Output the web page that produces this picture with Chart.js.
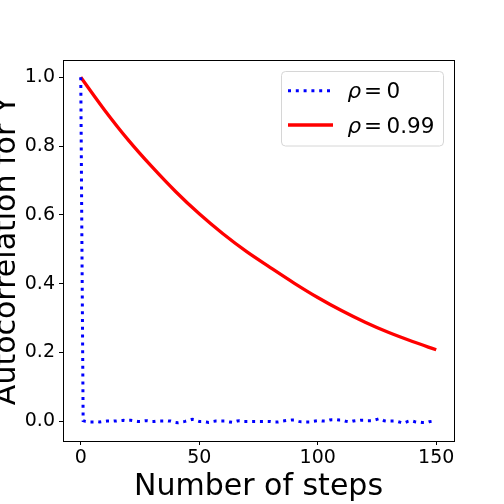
<!DOCTYPE html>
<html>
<head>
<meta charset="utf-8">
<script src="https://cdn.jsdelivr.net/npm/chart.js@4.4.1/dist/chart.umd.min.js"></script>
<style>
  html, body { margin: 0; padding: 0; background: #fff; }
  #chart { display: block; }
</style>
</head>
<body>
<canvas id="chart" width="504" height="504"></canvas>
<script>
// steps for rho = 0 (every step), and its sample autocorrelation
const stepsIid = [...Array(151).keys()]
const acfIid = [
  1.0, 0.002, 0.0, -0.001, -0.002, -0.002, -0.002, -0.001, -0.002, -0.001,
  0.0, 0.001, 0.001, 0.0, 0.001, 0.001, 0.002, 0.002, 0.003, 0.002,
  0.003, 0.003, 0.002, 0.001, 0.0, 0.0, 0.001, 0.002, 0.002, 0.001,
  0.0, 0.0, 0.001, 0.001, 0.001, 0.001, 0.002, 0.001, 0.001, -0.001,
  -0.003, -0.004, -0.003, -0.001, 0.0, 0.002, 0.004, 0.006, 0.005, 0.002,
  0.0, 0.0, -0.001, -0.002, -0.003, -0.002, 0.0, 0.001, 0.001, 0.001,
  0.001, 0.001, -0.001, -0.002, -0.003, -0.001, 0.001, 0.002, 0.001, 0.0,
  0.0, 0.0, 0.0, 0.0, 0.0, 0.0, 0.0, 0.0, 0.0, 0.0,
  0.0, -0.001, -0.002, -0.002, -0.001, 0.001, 0.002, 0.003, 0.003, 0.004,
  0.004, 0.002, 0.0, -0.001, -0.001, -0.002, -0.002, -0.002, 0.0, 0.001,
  0.002, 0.002, 0.001, 0.001, 0.002, 0.004, 0.005, 0.005, 0.005, 0.004,
  0.004, 0.002, 0.0, -0.001, -0.001, 0.001, 0.002, 0.002, 0.003, 0.003,
  0.003, 0.002, 0.002, 0.002, 0.004, 0.006, 0.008, 0.005, 0.002, 0.001,
  0.001, 0.001, 0.001, 0.001, -0.001, -0.003, -0.005, -0.003, 0.0, 0.002,
  0.001, -0.001, -0.002, -0.002, -0.003, -0.003, -0.003, -0.001, 0.0, 0.001,
  0.001
]

// rho = 0.99, read every 10 steps
const stepsAr = [0, 10, 20, 30, 40, 50, 60, 70, 80, 90, 100, 110, 120, 130, 140, 150]
const acfAr = [1.0, 0.905, 0.818, 0.740, 0.668, 0.603, 0.545, 0.493, 0.447, 0.402,
  0.360, 0.322, 0.288, 0.258, 0.232, 0.208]

const xTicks = [0, 50, 100, 150]
const yTicks = [0.0, 0.2, 0.4, 0.6, 0.8, 1.0]
const seriesNames = ['0', '0.99']

Chart.defaults.font.family = '"DejaVu Sans", sans-serif'
Chart.defaults.color = '#000'

// frame, axis titles and legend the way matplotlib puts them
const decor = {
  id: 'decor',
  afterDraw(chart) {
    const ctx = chart.ctx
    const a = chart.chartArea
    ctx.save()
    ctx.strokeStyle = '#000'
    ctx.lineWidth = 1
    ctx.strokeRect(Math.round(a.left) + 0.5, Math.round(a.top) + 0.5,
      Math.round(a.right - a.left), Math.round(a.bottom - a.top))

    ctx.fillStyle = '#000'
    ctx.font = '30px "DejaVu Sans"'
    ctx.textAlign = 'center'
    ctx.textBaseline = 'alphabetic'
    ctx.fillText('Number of steps', (a.left + a.right) / 2, 495)

    ctx.save()
    ctx.translate(14.5, (a.top + a.bottom) / 2)
    ctx.rotate(-Math.PI / 2)
    ctx.fillText('Autocorrelation for Y', 0, 0)
    ctx.restore()

    // legend box
    const bx = 281.5, by = 71.5, bw = 162, bh = 74.5, r = 4
    ctx.beginPath()
    ctx.moveTo(bx + r, by)
    ctx.arcTo(bx + bw, by, bx + bw, by + bh, r)
    ctx.arcTo(bx + bw, by + bh, bx, by + bh, r)
    ctx.arcTo(bx, by + bh, bx, by, r)
    ctx.arcTo(bx, by, bx + bw, by, r)
    ctx.closePath()
    ctx.fillStyle = 'rgba(255,255,255,0.8)'
    ctx.fill()
    ctx.strokeStyle = '#d6d6d6'
    ctx.stroke()

    const rows = [90.7, 125]
    chart.data.datasets.forEach((ds, i) => {
      const y = rows[i]
      ctx.beginPath()
      ctx.setLineDash(ds.borderDash || [])
      ctx.lineCap = 'butt'
      ctx.strokeStyle = ds.borderColor
      ctx.lineWidth = ds.borderWidth
      ctx.moveTo(288, y)
      ctx.lineTo(333, y)
      ctx.stroke()
      ctx.setLineDash([])

      ctx.fillStyle = '#000'
      ctx.textAlign = 'left'
      ctx.font = 'italic 21.5px "DejaVu Sans"'
      ctx.fillText('ρ', 347.5, y + 7.6)
      ctx.font = '21.5px "DejaVu Sans"'
      ctx.fillText('=', 364, y + 7.6)
      ctx.fillText(seriesNames[i], 386.5, y + 7.6)
    })
    ctx.restore()
  }
}

new Chart(document.getElementById('chart'), {
  type: 'line',
  data: {
    datasets: [{
      label: 'ρ = ' + seriesNames[0],
      data: stepsIid.map((s, i) => ({ x: s, y: acfIid[i] })),
      borderColor: '#0000ff',
      borderWidth: 3,
      borderDash: [3, 4.8],
      borderCapStyle: 'butt',
      pointRadius: 0,
      fill: false
    }, {
      label: 'ρ = ' + seriesNames[1],
      data: stepsAr.map((s, i) => ({ x: s, y: acfAr[i] })),
      borderColor: '#ff0000',
      borderWidth: 3.3,
      cubicInterpolationMode: 'monotone',
      pointRadius: 0,
      fill: false
    }]
  },
  options: {
    responsive: false,
    animation: false,
    layout: { padding: { left: 0, top: 60, right: 50, bottom: 0 } },
    plugins: { legend: { display: false }, tooltip: { enabled: false } },
    scales: {
      x: {
        type: 'linear',
        min: -7.5,
        max: 157.5,
        afterBuildTicks: s => { s.ticks = xTicks.map(v => ({ value: v })) },
        afterFit: s => { s.height = 63 },
        grid: { drawOnChartArea: false, drawTicks: true, tickLength: 4, tickColor: '#000' },
        border: { display: true, color: '#000', width: 1 },
        ticks: { font: { size: 19 }, color: '#000', padding: 2, maxRotation: 0 }
      },
      y: {
        type: 'linear',
        min: -0.057,
        max: 1.05,
        afterBuildTicks: s => { s.ticks = yTicks.map(v => ({ value: v })) },
        afterFit: s => { s.width = 63 },
        grid: { drawOnChartArea: false, drawTicks: true, tickLength: 4, tickColor: '#000' },
        border: { display: true, color: '#000', width: 1 },
        ticks: { font: { size: 19 }, color: '#000', padding: 4, callback: v => v.toFixed(1) }
      }
    }
  },
  plugins: [decor]
})
</script>
</body>
</html>
